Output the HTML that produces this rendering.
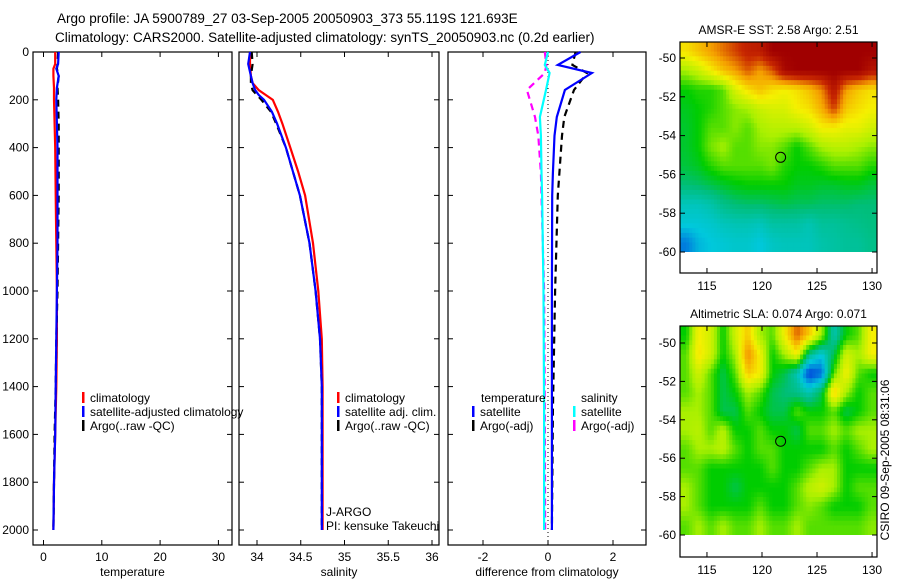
<!DOCTYPE html>
<html><head><meta charset="utf-8"><style>
body{margin:0;background:#fff;}
svg{display:block;font-family:"Liberation Sans",sans-serif;}
text{fill:#000;}
</style></head><body>
<svg id="fig" width="900" height="580" viewBox="0 0 900 580" xmlns="http://www.w3.org/2000/svg">
<text x="57" y="23" font-size="13.5">Argo profile: JA 5900789_27 03-Sep-2005 20050903_373 55.119S 121.693E</text>
<text x="55" y="42" font-size="13.5">Climatology: CARS2000. Satellite-adjusted climatology: synTS_20050903.nc (0.2d earlier)</text>
<g id="g"></g>
<text transform="translate(889,460) rotate(-90)" text-anchor="middle" font-size="12">CSIRO 09-Sep-2005 08:31:06</text>
</svg>
<script>
// ---- profile data ----
const tDepth=[0,50,70,100,150,200,300,400,600,800,1000,1200,1400,1600,1800,2000];
const tClim=[2.0,2.0,1.7,1.7,1.8,1.8,1.9,2.0,2.1,2.2,2.3,2.3,2.2,2.0,1.8,1.7];
const tSat=[2.6,2.5,2.2,2.6,2.3,2.2,2.3,2.4,2.4,2.4,2.3,2.2,2.1,2.0,1.8,1.7];
const tArgo=[2.5,2.4,2.3,2.6,2.4,2.5,2.6,2.6,2.6,2.5,2.4,2.2,2.1,1.9,1.8,1.7];
const sDepth=[0,50,100,130,160,180,200,250,300,400,500,600,800,1000,1200,1400,2000];
const sClim=[33.92,33.92,33.93,33.95,34.02,34.1,34.18,34.24,34.29,34.38,34.47,34.55,34.64,34.7,34.74,34.75,34.75];
const sSat=[33.92,33.9,33.93,33.95,33.98,34.02,34.08,34.17,34.23,34.33,34.41,34.49,34.6,34.67,34.72,34.74,34.74];
const sArgo=[33.94,33.95,33.93,33.93,33.95,34.0,34.05,34.16,34.22,34.33,34.41,34.49,34.6,34.67,34.72,34.74,34.74];
const dDepth=[0,54,88,159,272,350,506,600,1000,1500,2000];
const dTSat=[1.0,0.3,1.35,0.52,0.27,0.2,0.15,0.13,0.12,0.12,0.12];
const dTArgo=[0.85,0.75,1.2,0.8,0.5,0.43,0.35,0.3,0.22,0.15,0.12];
const dSSat=[0.0,-0.1,0.05,-0.06,-0.25,-0.22,-0.2,-0.18,-0.14,-0.12,-0.12];
const dSArgo=[-0.1,-0.05,-0.1,-0.65,-0.4,-0.3,-0.22,-0.2,-0.12,-0.1,-0.09];
const depthTicks=[0,200,400,600,800,1000,1200,1400,1600,1800,2000];
const tTicks=[0,10,20,30];
const sTicks=[34,34.5,35,35.5,36];
const dTicks=[-2,0,2];
// ---- map data (rows from -49.2 to -60, cols 112.55..130.45), normalised colour values ----
const sstGrid=[
[0.72,0.76,0.8,0.84,0.88,0.92,0.93,1,1,1,1,1,1,1,1,1],
[0.6,0.64,0.7,0.76,0.8,0.86,0.8,0.86,0.98,1,1,1,1,1,1,0.95],
[0.5,0.52,0.52,0.55,0.66,0.72,0.76,0.72,0.7,0.72,0.76,0.82,0.95,0.8,0.75,0.72],
[0.48,0.5,0.52,0.55,0.58,0.6,0.64,0.66,0.66,0.7,0.72,0.78,0.88,0.75,0.72,0.7],
[0.47,0.5,0.55,0.55,0.58,0.55,0.6,0.62,0.62,0.62,0.65,0.7,0.7,0.68,0.68,0.65],
[0.47,0.5,0.57,0.6,0.55,0.55,0.58,0.58,0.55,0.5,0.55,0.6,0.62,0.62,0.6,0.58],
[0.46,0.48,0.52,0.55,0.55,0.55,0.55,0.57,0.52,0.5,0.5,0.52,0.55,0.55,0.55,0.52],
[0.42,0.43,0.45,0.47,0.49,0.5,0.5,0.5,0.5,0.48,0.48,0.47,0.47,0.48,0.48,0.46],
[0.34,0.34,0.36,0.4,0.42,0.43,0.43,0.44,0.45,0.44,0.44,0.43,0.43,0.43,0.42,0.42],
[0.31,0.31,0.32,0.34,0.35,0.35,0.34,0.37,0.37,0.37,0.35,0.38,0.38,0.39,0.4,0.41],
[0.22,0.28,0.3,0.31,0.32,0.32,0.3,0.33,0.34,0.34,0.34,0.36,0.37,0.38,0.38,0.4]];
const slaGrid=[
[0.5,0.7,0.65,0.5,0.65,0.75,0.6,0.55,0.7,0.85,0.75,0.6,0.35,0.5,0.55,0.7],
[0.55,0.72,0.65,0.5,0.6,0.82,0.7,0.5,0.6,0.7,0.4,0.3,0.45,0.65,0.6,0.7],
[0.55,0.65,0.55,0.45,0.55,0.75,0.7,0.5,0.45,0.35,0.15,0.2,0.55,0.7,0.55,0.5],
[0.55,0.6,0.55,0.45,0.5,0.6,0.55,0.45,0.42,0.4,0.35,0.45,0.75,0.6,0.5,0.55],
[0.6,0.6,0.55,0.45,0.45,0.55,0.5,0.45,0.45,0.55,0.5,0.5,0.55,0.45,0.5,0.55],
[0.6,0.62,0.55,0.62,0.5,0.5,0.55,0.5,0.5,0.45,0.55,0.55,0.6,0.55,0.6,0.6],
[0.55,0.6,0.6,0.62,0.55,0.5,0.55,0.55,0.5,0.5,0.5,0.5,0.55,0.5,0.55,0.6],
[0.55,0.55,0.5,0.5,0.5,0.5,0.5,0.55,0.5,0.5,0.55,0.6,0.6,0.5,0.5,0.5],
[0.6,0.55,0.5,0.5,0.45,0.5,0.5,0.5,0.5,0.55,0.62,0.65,0.6,0.5,0.55,0.55],
[0.6,0.55,0.5,0.5,0.5,0.5,0.55,0.5,0.5,0.55,0.58,0.55,0.5,0.5,0.5,0.55],
[0.55,0.6,0.55,0.6,0.55,0.55,0.6,0.55,0.55,0.6,0.55,0.55,0.55,0.55,0.55,0.58]];
const lonTicks=[115,120,125,130];
const latTicks=[-50,-52,-54,-56,-58,-60];
const argoLon=121.693, argoLat=-55.119;

const NS="http://www.w3.org/2000/svg";
const G=document.getElementById('g');
function mk(tag,attrs,parent){const e=document.createElementNS(NS,tag);for(const k in attrs)e.setAttribute(k,attrs[k]);(parent||G).appendChild(e);return e;}
function txt(s,x,y,anchor,size,parent){const t=mk('text',{x:x,y:y,'text-anchor':anchor||'start','font-size':size||12},parent);t.textContent=s;return t;}

const PT=52,PB=545;
const yD=d=>PT+d*(530-PT)/2000;
function panel(name,x0,x1,xs,ticks,label){
  const g=mk('g',{});
  
  
  mk('rect',{x:x0,y:PT,width:x1-x0,height:PB-PT,fill:'none',stroke:'#000','stroke-width':1.2},g);
  depthTicks.forEach(d=>{const y=yD(d);
    mk('line',{x1:x0,x2:x0+5,y1:y,y2:y,stroke:'#000'},g);
    mk('line',{x1:x1,x2:x1-5,y1:y,y2:y,stroke:'#000'},g);
    if(x0<40){const t=txt(String(d),x0-4,y+4,'end',12,g);}
  });
  ticks.forEach(v=>{const x=xs(v);
    mk('line',{x1:x,x2:x,y1:PB,y2:PB-5,stroke:'#000'},g);
    mk('line',{x1:x,x2:x,y1:PT,y2:PT+5,stroke:'#000'},g);
    const t=txt(String(v),x,561,'middle',12,g);
    
    
  });
  const l=txt(label,(x0+x1)/2,576,'middle',12,g);
  
  
  return g;
}
function line(g,name,depths,vals,xs,color,dash,w){
  const pts=depths.map((d,i)=>xs(vals[i]).toFixed(1)+','+yD(d).toFixed(1)).join(' ');
  const p=mk('polyline',{points:pts,fill:'none',stroke:color,'stroke-width':w||2.2},g);
  if(dash)p.setAttribute('stroke-dasharray',dash);
  
  
}
function legend(g,x,y,items){
  items.forEach((it,i)=>{
    mk('rect',{x:x,y:y+i*14-10,width:2.5,height:11,fill:it[1]},g);
    const t=txt(it[0],x+8,y+i*14,'start',12,g);
    
    
  });
}
const xT=v=>43.5+5.83*v;
const p1=panel('temperature-panel',33,232,xT,tTicks,'temperature');
line(p1,'temp-climatology',tDepth,tClim,xT,'#f00');
line(p1,'temp-argo',tDepth,tArgo,xT,'#000','7,5');
line(p1,'temp-satellite-adjusted',tDepth,tSat,xT,'#00f');
legend(p1,82,402,[['climatology','#f00'],['satellite-adjusted climatology','#00f'],['Argo(..raw -QC)','#000']]);
const xS=v=>257+87.5*(v-34);
const p2=panel('salinity-panel',239,439,xS,sTicks,'salinity');
line(p2,'sal-climatology',sDepth,sClim,xS,'#f00');
line(p2,'sal-argo',sDepth,sArgo,xS,'#000','7,5');
line(p2,'sal-satellite-adjusted',sDepth,sSat,xS,'#00f');
legend(p2,337,402,[['climatology','#f00'],['satellite adj. clim.','#00f'],['Argo(..raw -QC)','#000']]);
const j1=txt('J-ARGO',326,516,'start',12,p2);
const j2=txt('PI: kensuke Takeuchi',326,530,'start',12,p2);
const xDf=v=>548+32.5*v;
const p3=panel('difference-panel',448,646,xDf,dTicks,'difference from climatology');
mk('line',{x1:xDf(0),x2:xDf(0),y1:PT,y2:PB,stroke:'#000','stroke-dasharray':'1,3'},p3);
line(p3,'temp-diff-argo',dDepth,dTArgo,xDf,'#000','7,5');
line(p3,'temp-diff-satellite',dDepth,dTSat,xDf,'#00f');
line(p3,'sal-diff-argo',dDepth,dSArgo,xDf,'#f0f','7,5');
line(p3,'sal-diff-satellite',dDepth,dSSat,xDf,'#0ff');
const h1=txt('temperature',481,402,'start',12,p3);
const h2=txt('salinity',581,402,'start',12,p3);
legend(p3,472,416,[['satellite','#00f'],['Argo(-adj)','#000']]);
legend(p3,573,416,[['satellite','#0ff'],['Argo(-adj)','#f0f']]);

// colormap stops (visual styling, not data)
const cmStops=[[0,[0,20,150]],[0.15,[0,60,220]],[0.3,[0,200,220]],[0.42,[0,190,120]],[0.5,[0,205,0]],[0.6,[170,240,0]],[0.7,[245,240,0]],[0.8,[245,160,0]],[0.9,[200,40,0]],[1,[160,0,0]]];
function cmap(v){v=Math.max(0,Math.min(1,v));
  for(let i=1;i<cmStops.length;i++){if(v<=cmStops[i][0]){const a=cmStops[i-1],b=cmStops[i],f=(v-a[0])/(b[0]-a[0]);
    return 'rgb('+a[1].map((c,k)=>Math.round(c+(b[1][k]-c)*f)).join(',')+')';}}
  return 'rgb(160,0,0)';}
function sample(grid,fr,fc){
  const R=grid.length-1,C=grid[0].length-1;
  fr=Math.max(0,Math.min(R,fr));fc=Math.max(0,Math.min(C,fc));
  const r0=Math.floor(fr),c0=Math.floor(fc),r1=Math.min(R,r0+1),c1=Math.min(C,c0+1),a=fr-r0,b=fc-c0;
  return grid[r0][c0]*(1-a)*(1-b)+grid[r0][c1]*(1-a)*b+grid[r1][c0]*a*(1-b)+grid[r1][c1]*a*b;}
function map(name,title,grid,top,bot,yM50,yM60){
  const x0=680,x1=877,lonMin=112.55,lonMax=130.45;
  const xs=l=>x0+(l-lonMin)*(x1-x0)/(lonMax-lonMin);
  const ys=la=>yM50+(-50-la)*(yM60-yM50)/10;
  const g=mk('g',{});
  
  
  const rows=grid.length,cols=grid[0].length;
  const S=4, yTop=top, yBot=ys(-60);
  const NR=rows*S,NC=cols*S;
  const cw=(x1-x0)/NC,ch=(yBot-yTop)/NR;
  for(let r=0;r<NR;r++)for(let c=0;c<NC;c++){
    const v=sample(grid,(r+0.5)/S-0.5,(c+0.5)/S-0.5);
    const cell=mk('rect',{x:(x0+c*cw).toFixed(2),y:(yTop+r*ch).toFixed(2),width:(cw+0.5).toFixed(2),height:(ch+0.5).toFixed(2),fill:cmap(v)},g);
    
    
  }
  mk('rect',{x:x0,y:yBot,width:x1-x0,height:bot-yBot,fill:'#fff'},g);
  mk('rect',{x:x0,y:top,width:x1-x0,height:bot-top,fill:'none',stroke:'#000','stroke-width':1.2},g);
  lonTicks.forEach(l=>{const x=xs(l);mk('line',{x1:x,x2:x,y1:top,y2:top+5,stroke:'#000'},g);mk('line',{x1:x,x2:x,y1:bot,y2:bot-5,stroke:'#000'},g);
    const t=txt(String(l),x,bot+17,'middle',12,g);});
  latTicks.forEach(la=>{const y=ys(la);mk('line',{x1:x0,x2:x0+5,y1:y,y2:y,stroke:'#000'},g);mk('line',{x1:x1,x2:x1-5,y1:y,y2:y,stroke:'#000'},g);
    const t=txt(String(la),x0-4,y+4,'end',12,g);});
  const c=mk('circle',{cx:xs(argoLon),cy:ys(argoLat),r:5,fill:'none',stroke:'#000','stroke-width':1},g);
  
  
  const tt=txt(title,(x0+x1)/2,top-8,'middle',12,g);
  
  
}
map('sst-map','AMSR-E SST: 2.58 Argo: 2.51',sstGrid,42,273,58,252);
map('sla-map','Altimetric SLA: 0.074 Argo: 0.071',slaGrid,326,557,343,535);
</script>
</body></html>
